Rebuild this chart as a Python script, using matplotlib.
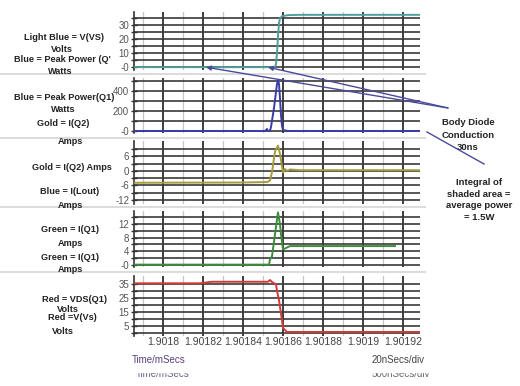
import matplotlib.pyplot as plt
from matplotlib.patches import Rectangle, ConnectionPatch
from matplotlib.lines import Line2D

plt.rcParams['font.family'] = ['Liberation Sans', 'DejaVu Sans']
NARROW = ['Liberation Sans Narrow', 'Liberation Sans', 'DejaVu Sans']

# time in mSecs
x_ticks = [1.9018, 1.90182, 1.90184, 1.90186, 1.90188, 1.9019, 1.90192]
x_ticklabels = ['1.9018', '1.90182', '1.90184', '1.90186', '1.90188', '1.9019', '1.90192']
x_minor = [1.90179, 1.90181, 1.90183, 1.90185, 1.90187, 1.90189, 1.90191]
x_lim = (1.9017855, 1.9019285)

# light blue = V(VS), volts
t_vs = [1.9017855, 1.901856, 1.9018565, 1.901857, 1.9018575, 1.901858, 1.9018585,
        1.9018595, 1.9018625, 1.9018685, 1.9019285]
v_vs = [0.0, 0.0, 2.0, 10.0, 22.0, 31.0, 34.5, 36.0, 36.8, 37.0, 37.0]

# blue = peak power Q1, watts
t_pw = [1.9017855, 1.901851, 1.901852, 1.9018525, 1.901853, 1.9018535, 1.901854,
        1.9018555, 1.901857, 1.9018575, 1.901858, 1.9018585, 1.901859, 1.9018595,
        1.90186, 1.9018625, 1.9019285]
p_pw = [0, 0, 20, 0, 0, 5, 40, 230, 470, 510, 470, 330, 160, 50, 10, 0, 0]

# gold = I(Q2), amps
t_q2 = [1.9017855, 1.90184, 1.901852, 1.9018535, 1.9018545, 1.901856, 1.9018575,
        1.9018585, 1.901859, 1.90186, 1.901861, 1.901862, 1.9018635, 1.9018685, 1.9019285]
i_q2 = [-4.9, -4.8, -4.6, -4.0, -0.5, 8.0, 10.5, 7.0, 4.5, -0.7, 0.8, 0.0, 0.6, 0.3, 0.3]

# green = I(Q1), amps
t_q1 = [1.9017855, 1.901853, 1.9018535, 1.9018545, 1.901856, 1.9018575, 1.9018585,
        1.901859, 1.90186, 1.901861, 1.9018635, 1.901916]
i_q1 = [0.0, 0.0, 1.5, 2.5, 9.0, 15.5, 12.0, 9.0, 4.5, 4.8, 5.5, 5.5]

# red = VDS(Q1), volts
t_vds = [1.9017855, 1.9018185, 1.9018245, 1.9018525, 1.9018535, 1.901855, 1.9018565,
         1.901857, 1.901858, 1.9018595, 1.90186, 1.901862, 1.9019285]
v_vds = [35.5, 35.5, 36.6, 36.6, 37.8, 35.8, 35.0, 30.0, 23.6, 9.0, 3.6, 0.8, 0.8]

# arrow targets on the V(VS) trace
arrow_t = [1.9018215, 1.9018525]

panels = [
    # (top px, bottom px, ylim, labelled ticks, labels, all grid lines, x, y, colour)
    (12, 70, (-2, 39), [30, 20, 10, 0], ['30', '20', '10', '-0'],
     [0, 5, 10, 15, 20, 25, 30, 35], t_vs, v_vs, '#4f9e9a'),
    (78, 133, (-20, 530), [400, 200, 0], ['400', '200', '-0'],
     [0, 100, 200, 300, 400, 500], t_pw, p_pw, '#3b3ba8'),
    (141, 204, (-13.7, 12.4), [6, 0, -6, -12], ['6', '0', '-6', '-12'],
     [-12, -9, -6, -3, 0, 3, 6, 9], t_q2, i_q2, '#a39b3c'),
    (211, 267, (-0.7, 15.9), [12, 8, 4, 0], ['12', '8', '4', '-0'],
     [0, 2, 4, 6, 8, 10, 12, 14], t_q1, i_q1, '#3c8c3c'),
    (276, 336, (-2.1, 40.7), [35, 25, 15, 5], ['35', '25', '15', '5'],
     [0, 5, 10, 15, 20, 25, 30, 35], t_vds, v_vds, '#d23a3a'),
]

W, H = 520, 386
fig = plt.figure(figsize=(5.2, 3.86), dpi=100)

axes = []
for top, bot, ylim, yt, ytl, ygrid, xs, ys, col in panels:
    ax = fig.add_axes([134 / W, 1 - bot / H, (420 - 134) / W, (bot - top) / H])
    ax.plot(xs, ys, color=col, lw=1.4, zorder=3)
    ax.set_xlim(*x_lim)
    ax.set_ylim(*ylim)
    ax.set_xticks(x_ticks)
    ax.set_xticks(x_minor, minor=True)
    ax.set_yticks(yt)
    ax.set_yticklabels(ytl)
    ax.set_yticks([g for g in ygrid if g not in yt], minor=True)
    ax.set_axisbelow(True)
    ax.grid(True, which='major', axis='x', color='#2e2e2e', lw=1.3)
    ax.grid(True, which='minor', axis='x', color='#c6c6c6', lw=0.9)
    ax.grid(True, which='both', axis='y', color='#3a3a3a', lw=1.2)
    for s in ['top', 'right', 'bottom']:
        ax.spines[s].set_visible(False)
    ax.spines['left'].set_color('#333333')
    ax.spines['left'].set_linewidth(1.2)
    ax.tick_params(axis='y', which='both', direction='inout', length=5, width=1,
                   color='#333333', labelsize=7, labelcolor='#555555', pad=1)
    ax.tick_params(axis='x', which='both', length=0, labelbottom=False)
    axes.append(ax)

axes[-1].tick_params(axis='x', labelbottom=True, labelsize=7.5, labelcolor='#444444', pad=1)
axes[-1].set_xticklabels(x_ticklabels)

# light separators between panels
for y in [74, 138, 207, 272]:
    fig.add_artist(Line2D([0, 425 / W], [1 - y / H, 1 - y / H], color='#dcdcdc', lw=1.5,
                          transform=fig.transFigure))

# left hand labels
left_labels = [
    ('Light Blue = V(VS)', 64, 38), ('Volts', 62, 49), ('Blue = Peak Power (Q\'', 62, 59),
    ('Watts', 60, 72), ('Blue = Peak Power(Q1)', 64, 98), ('Watts', 63, 110),
    ('Gold = I(Q2)', 63, 124), ('Amps', 70, 142), ('Gold = I(Q2) Amps', 72, 168),
    ('Blue = I(Lout)', 70, 192), ('Amps', 70, 205), ('Green = I(Q1)', 70, 230),
    ('Amps', 70, 243), ('Green = I(Q1)', 70, 257), ('Amps', 70, 270),
    ('Red = VDS(Q1)', 74, 299), ('Volts', 68, 309), ('Red =V(Vs)', 72, 317),
    ('Volts', 63, 332),
]
for s, x, y in left_labels:
    fig.text(x / W, 1 - y / H, s, ha='center', va='center', fontsize=6.6,
             fontweight='bold', family=NARROW, color='#222222')

# annotations on the right
fig.text(468 / W, 1 - 135 / H, 'Body Diode\nConduction\n30ns', ha='center', va='center',
         fontsize=6.8, fontweight='bold', family=NARROW, color='#222222', linespacing=1.45)
fig.text(479 / W, 1 - 200 / H, 'Integral of\nshaded area =\naverage power\n= 1.5W',
         ha='center', va='center', fontsize=6.8, fontweight='bold', family=NARROW,
         color='#222222', linespacing=1.35)

arrow_col = '#4a4a9c'
for xt in arrow_t:
    con = ConnectionPatch(xyA=(448 / W, 1 - 108 / H), coordsA='figure fraction',
                          xyB=(xt, 0), coordsB=axes[0].transData,
                          arrowstyle='-|>', color=arrow_col, lw=1,
                          mutation_scale=7, shrinkA=0, shrinkB=0, zorder=20)
    fig.add_artist(con)
fig.add_artist(Line2D([427 / W, 484 / W], [1 - 132 / H, 1 - 164 / H], color=arrow_col,
                      lw=1, transform=fig.transFigure, zorder=20))

# axis captions, with the faded duplicates underneath
fig.text(159 / W, 1 - 360 / H, 'Time/mSecs', ha='center', va='center', fontsize=7,
         color='#5a3f7a')
fig.text(398 / W, 1 - 360 / H, '20nSecs/div', ha='center', va='center', fontsize=7,
         color='#444444')
fig.text(163 / W, 1 - 374 / H, 'Time/mSecs', ha='center', va='center', fontsize=7,
         color='#6a5a8a')
fig.text(401 / W, 1 - 374 / H, '500nSecs/div', ha='center', va='center', fontsize=7,
         color='#666666')
fig.add_artist(Rectangle((120 / W, 1 - 372 / H), 320 / W, 6 / H, color='white',
                         transform=fig.transFigure, zorder=10))

fig.savefig('out.png', dpi=100)
